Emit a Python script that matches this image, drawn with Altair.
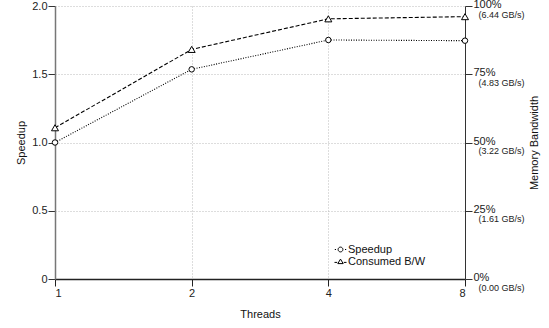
import altair as alt
import pandas as pd

threads = [1, 2, 4, 8]
speedup = [1.0, 1.536, 1.751, 1.746]
bandwidth_pct = [55.4, 84.1, 95.3, 96.1]
series_names = ["Speedup", "Consumed B/W"]

x_ticks = [1, 2, 4, 8]
speed_ticks = [0, 0.5, 1.0, 1.5, 2.0]
speed_labels = ["0", "0.5", "1.0", "1.5", "2.0"]
pct_ticks = [0, 25, 50, 75, 100]
pct_labels = ["0%", "25%", "50%", "75%", "100%"]
gbs_labels = ["(0.00 GB/s)", "(1.61 GB/s)", "(3.22 GB/s)", "(4.83 GB/s)", "(6.44 GB/s)"]

df_speed = pd.DataFrame({"threads": threads, "value": speedup, "series": series_names[0]})
df_bw = pd.DataFrame({"threads": threads, "value": bandwidth_pct, "series": series_names[1]})
df_all = pd.concat([df_speed, df_bw])

FONT = "Liberation Sans"


def lab_expr(vals, labs):
    v = "[" + ",".join(str(x) for x in vals) + "]"
    l = "[" + ",".join("'" + s + "'" for s in labs) + "]"
    return f"{l}[indexof({v}, datum.value)]"


x_enc = alt.X(
    "threads:Q",
    scale=alt.Scale(type="log", base=2, domain=[1, 8]),
    axis=alt.Axis(
        values=x_ticks, format="d", title="Threads", grid=True,
        gridColor="#bbbbbb", gridDash=[1, 2], gridWidth=1,
        domainColor="#222222", domainWidth=1.5, tickColor="#222222",
        tickSize=7, labelPadding=1, titlePadding=10,
    ),
)

speed_y = alt.Y(
    "value:Q",
    scale=alt.Scale(domain=[0, 2]),
    axis=alt.Axis(
        orient="left", values=speed_ticks, labelExpr=lab_expr(speed_ticks, speed_labels),
        title="Speedup", grid=True, gridColor="#bbbbbb", gridDash=[1, 2], gridWidth=1,
        domainColor="#777777", domainWidth=1.5, tickColor="#333333",
        tickSize=7, labelPadding=1, titlePadding=5,
    ),
)

speed_line = alt.Chart(df_speed).mark_line(color="black", strokeWidth=1.1, strokeDash=[1, 1.5]).encode(
    x=x_enc, y=speed_y
)
speed_pts = alt.Chart(df_speed).mark_point(
    shape="circle", filled=True, fill="white", stroke="black", strokeWidth=1, size=30, opacity=1
).encode(x=x_enc, y=speed_y)
speed = alt.layer(speed_line, speed_pts)

bw_y = alt.Y(
    "value:Q",
    scale=alt.Scale(domain=[0, 100]),
    axis=alt.Axis(
        orient="right", values=pct_ticks, labelExpr=lab_expr(pct_ticks, pct_labels),
        title=None, grid=False, domainColor="#333333", domainWidth=1, tickColor="#333333",
        tickSize=7, labelPadding=1, labelBaseline="alphabetic", labelOffset=1.5,
    ),
)
bw_line = alt.Chart(df_bw).mark_line(color="black", strokeWidth=1.1, strokeDash=[4, 2]).encode(
    x=x_enc, y=bw_y
)
bw_pts = alt.Chart(df_bw).mark_point(
    shape="triangle-up", filled=True, fill="white", stroke="black", strokeWidth=1, size=49, opacity=1
).encode(x=x_enc, y=bw_y)
bw = alt.layer(bw_line, bw_pts)

circle_path = ("M-0.95,0H-0.75M0.75,0H0.95"
               "M0.4,0A0.4,0.4,0,1,1,-0.4,0A0.4,0.4,0,1,1,0.4,0Z")
tri_path = "M-1,0.15H-0.55M0.55,0.15H1M-0.45,0.35L0.45,0.35L0,-0.4Z"

gbs_y = alt.Y(
    "value:Q",
    scale=alt.Scale(domain=[0, 100]),
    axis=alt.Axis(
        orient="right", values=pct_ticks, labelExpr=lab_expr(pct_ticks, gbs_labels),
        title="Memory Bandwidth", titleAngle=270, titleBaseline="top", titlePadding=4,
        grid=False, domain=False,
        ticks=False, tickSize=0, labelPadding=13, labelFontSize=9,
        labelBaseline="alphabetic", labelOffset=11,
    ),
)
legend_layer = alt.Chart(df_all).transform_filter("false").mark_point(
    filled=False, color="black", strokeWidth=1, opacity=1
).encode(
    x=x_enc,
    y=gbs_y,
    shape=alt.Shape(
        "series:N",
        scale=alt.Scale(domain=series_names, range=[circle_path, tri_path]),
        legend=alt.Legend(
            title=None, orient="none", legendX=279, legendY=237, symbolSize=144,
            labelFontSize=11, labelFont=FONT, labelOffset=1, rowPadding=0, padding=0,
            symbolStrokeWidth=1, symbolStrokeColor="black", labelColor="#111111",
        ),
    ),
)

chart = alt.layer(speed, bw, legend_layer).resolve_scale(y="independent").properties(
    width=410, height=273,
    padding={"left": 55, "top": 6, "right": 84, "bottom": 49},
    autosize=alt.AutoSizeParams(type="none"),
).configure_view(stroke=None).configure_axis(
    labelFont=FONT, titleFont=FONT, labelFontSize=11, titleFontSize=11,
    labelColor="#222222", titleColor="#111111", titleFontWeight="normal",
)

chart.save("out.html", embed_options={"renderer": "svg", "actions": False})
